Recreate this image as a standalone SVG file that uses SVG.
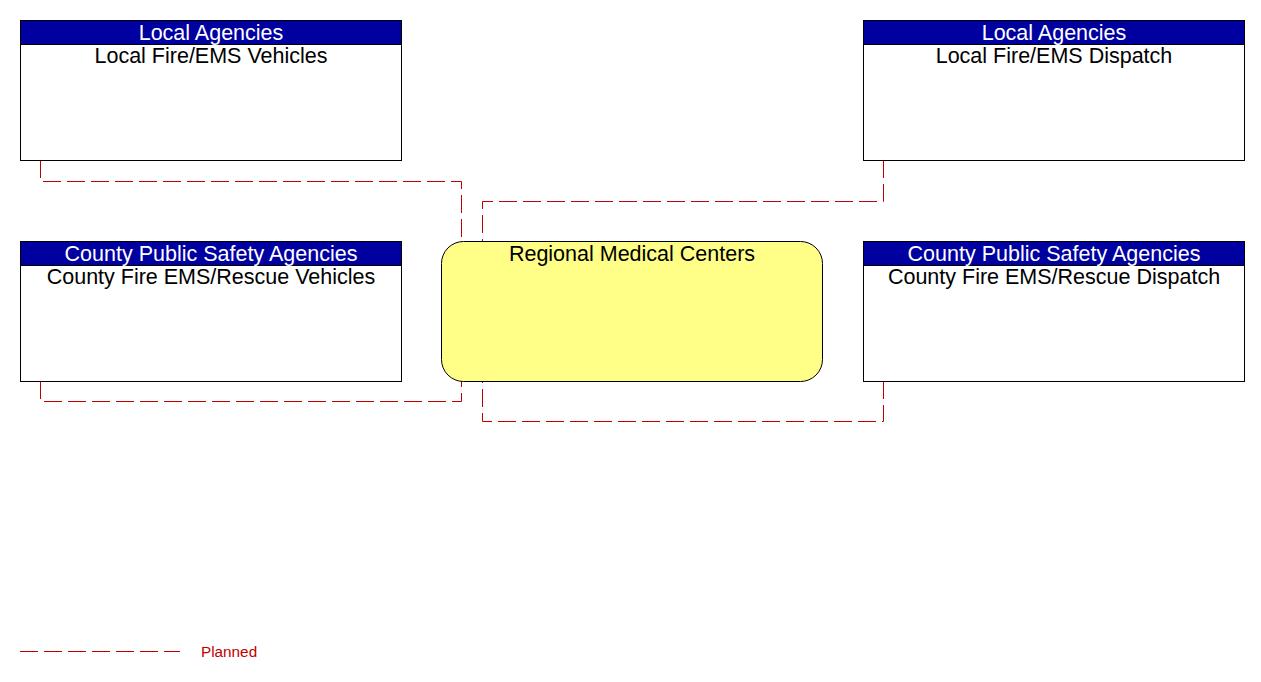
<svg xmlns="http://www.w3.org/2000/svg" width="1261" height="682" viewBox="0 0 1261 682">
<style>
.box{fill:#ffffff;stroke:#000000;stroke-width:1}
.hdr{fill:#0000a0;stroke:#000000;stroke-width:1}
.ht{font-family:"Liberation Sans",Arial,sans-serif;font-size:21.5px;fill:#ffffff;text-anchor:middle}
.bt{font-family:"Liberation Sans",Arial,sans-serif;font-size:21.5px;fill:#000000;text-anchor:middle}
.conn{fill:none;stroke:#c00000;stroke-width:1;stroke-dasharray:18,6}
.center{fill:#ffff88;stroke:#000000;stroke-width:1}
.leg{font-family:"Liberation Sans",Arial,sans-serif;font-size:15.3px;fill:#c00000}
</style>
<rect width="1261" height="682" fill="#ffffff"/>
<g id="connectors">
<path class="conn" d="M40.5,160 V181.5 H461.5 V241"/>
<path class="conn" d="M883.5,160 V201.5 H482.5 V241"/>
<path class="conn" d="M40.5,381 V401.5 H461.5 V381"/>
<path class="conn" d="M883.5,381 V421.5 H482.5 V381"/>
</g>
<g id="node-local-vehicles">
<rect class="box" x="20.5" y="20.5" width="381" height="140"/>
<rect class="hdr" x="20.5" y="20.5" width="381" height="24"/>
<text class="ht" x="211" y="40">Local Agencies</text>
<text class="bt" x="211" y="63">Local Fire/EMS Vehicles</text>
</g>
<g id="node-local-dispatch">
<rect class="box" x="863.5" y="20.5" width="381" height="140"/>
<rect class="hdr" x="863.5" y="20.5" width="381" height="24"/>
<text class="ht" x="1054" y="40">Local Agencies</text>
<text class="bt" x="1054" y="63">Local Fire/EMS Dispatch</text>
</g>
<g id="node-county-vehicles">
<rect class="box" x="20.5" y="241.5" width="381" height="140"/>
<rect class="hdr" x="20.5" y="241.5" width="381" height="24"/>
<text class="ht" x="211" y="261">County Public Safety Agencies</text>
<text class="bt" x="211" y="284">County Fire EMS/Rescue Vehicles</text>
</g>
<g id="node-county-dispatch">
<rect class="box" x="863.5" y="241.5" width="381" height="140"/>
<rect class="hdr" x="863.5" y="241.5" width="381" height="24"/>
<text class="ht" x="1054" y="261">County Public Safety Agencies</text>
<text class="bt" x="1054" y="284">County Fire EMS/Rescue Dispatch</text>
</g>
<g id="node-regional-medical">
<rect class="center" x="441.5" y="241.5" width="381" height="140" rx="22" ry="22"/>
<text class="bt" x="632" y="261">Regional Medical Centers</text>
</g>
<g id="legend">
<line class="conn" x1="20" y1="651.5" x2="180" y2="651.5"/>
<text class="leg" x="201" y="657">Planned</text>
</g>
</svg>
